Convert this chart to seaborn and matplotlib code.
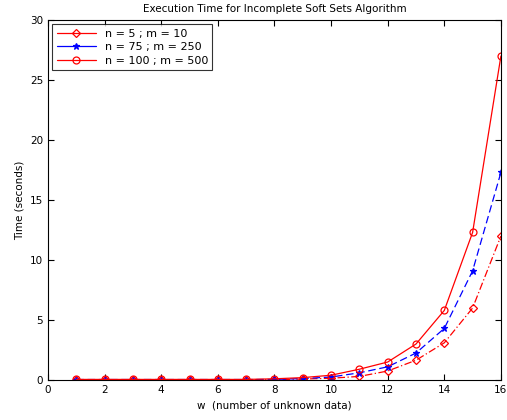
import numpy as np
import pandas as pd
import matplotlib
matplotlib.use('Agg')
import matplotlib.pyplot as plt
import seaborn as sns
from matplotlib.lines import Line2D

# data
w = list(range(1, 17))
t_n5 = [0.03, 0.03, 0.03, 0.03, 0.03, 0.03, 0.03, 0.03, 0.08, 0.15, 0.3, 0.75, 1.65, 3.1, 6.0, 12.0]
t_n75 = [0.04, 0.04, 0.04, 0.04, 0.04, 0.04, 0.04, 0.05, 0.12, 0.25, 0.6, 1.1, 2.25, 4.3, 9.1, 17.3]
t_n100 = [0.05, 0.05, 0.05, 0.05, 0.05, 0.05, 0.05, 0.1, 0.2, 0.4, 0.9, 1.5, 3.0, 5.8, 12.3, 27.0]
labels = ['n = 5 ; m = 10', 'n = 75 ; m = 250', 'n = 100 ; m = 500']

df = pd.DataFrame({
    'w': w * 3,
    'time': t_n5 + t_n75 + t_n100,
    'series': [labels[0]] * 16 + [labels[1]] * 16 + [labels[2]] * 16,
})

sns.set_style('ticks')
plt.rcParams['font.family'] = ['DejaVu Sans']
plt.rcParams['font.size'] = 7.5
plt.rcParams['text.color'] = 'black'
plt.rcParams['axes.labelcolor'] = 'black'
plt.rcParams['xtick.color'] = 'black'
plt.rcParams['ytick.color'] = 'black'
plt.rcParams['axes.edgecolor'] = 'black'

fig = plt.figure(figsize=(5.07, 4.2), dpi=100)
ax = fig.add_axes([0.0947, 0.0952, 0.8933, 0.8571])

colors = {labels[0]: 'red', labels[1]: 'blue', labels[2]: 'red'}
markers = {labels[0]: 'D', labels[1]: '*', labels[2]: 'o'}
msizes = {labels[0]: 3.8, labels[1]: 5, labels[2]: 5}
dashes = {labels[0]: (6, 2, 1, 2), labels[1]: (6, 3), labels[2]: ''}

sns.lineplot(data=df, x='w', y='time', hue='series', style='series',
             palette=colors, markers=markers, dashes=dashes,
             linewidth=0.9, ax=ax, legend=False)
# matlab-like hollow markers
for line, lab in zip(ax.get_lines(), labels):
    line.set_markeredgecolor(colors[lab])
    line.set_markerfacecolor(colors[lab] if lab == labels[1] else 'none')
    line.set_markersize(msizes[lab])
    line.set_markeredgewidth(0.9)

handles = [Line2D([], [], color=colors[l], marker=markers[l],
                  markerfacecolor=colors[l] if l == labels[1] else 'none',
                  markeredgecolor=colors[l], linestyle='-', linewidth=0.9,
                  markeredgewidth=0.9, markersize=msizes[l]) for l in labels]
leg = ax.legend(handles, labels, loc='upper left', frameon=True, fancybox=False,
                edgecolor='black', fontsize=8, borderaxespad=0.4, handlelength=3.5,
                labelspacing=0.3)
leg.get_frame().set_linewidth(0.8)

ax.set_xlim(0, 16)
ax.set_ylim(0, 30)
ax.set_xticks(range(0, 17, 2))
ax.set_yticks(range(0, 31, 5))
ax.tick_params(direction='in', top=True, right=True, length=4, width=0.8, labelsize=7.5)
for s in ax.spines.values():
    s.set_visible(True)
    s.set_linewidth(0.8)
ax.set_xlabel('w  (number of unknown data)', fontsize=7.5)
ax.set_ylabel('Time (seconds)', fontsize=7.5)
ax.set_title('Execution Time for Incomplete Soft Sets Algorithm', fontsize=7.5, pad=6)

fig.savefig('out.png', dpi=100)
